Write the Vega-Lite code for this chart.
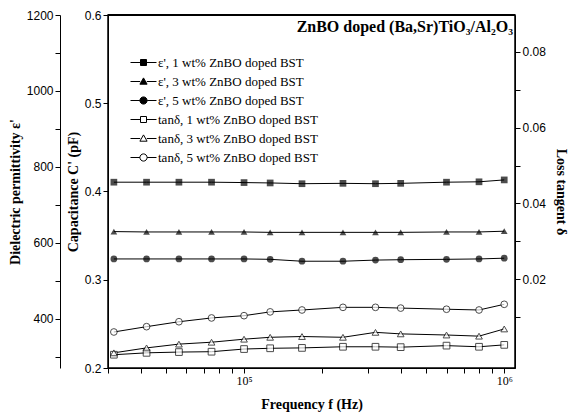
{
 "$schema": "https://vega.github.io/schema/vega-lite/v6.json",
 "width": 407, "height": 353,
 "autosize": {"type": "none"},
 "padding": {"left": 108, "top": 15, "right": 59, "bottom": 50},
 "background": "white",
 "config": {
  "view": {"stroke": "black", "strokeWidth": 1.5},
  "axis": {"domainColor": "black", "tickColor": "black", "labelColor": "black", "titleColor": "black", "grid": false, "labelFont": "Liberation Sans", "labelFontSize": 12, "titleFont": "Liberation Serif", "titleFontSize": 14, "titleFontWeight": "bold", "labelFlush": false, "labelOverlap": false}
 },
 "title": {"text": "ZnBO doped (Ba,Sr)TiO₃/Al₂O₃", "anchor": "end", "orient": "top", "frame": "group", "offset": 0, "dy": 26, "dx": -2, "font": "Liberation Serif", "fontSize": 16, "fontWeight": "bold", "color": "black"},
 "datasets": {
  "eps": [
   {"f": 31600, "s": "ε', 1 wt% ZnBO doped BST", "v": 760},
   {"f": 42200, "s": "ε', 1 wt% ZnBO doped BST", "v": 760},
   {"f": 56200, "s": "ε', 1 wt% ZnBO doped BST", "v": 760},
   {"f": 75000, "s": "ε', 1 wt% ZnBO doped BST", "v": 760},
   {"f": 100000, "s": "ε', 1 wt% ZnBO doped BST", "v": 759},
   {"f": 126000, "s": "ε', 1 wt% ZnBO doped BST", "v": 758},
   {"f": 167000, "s": "ε', 1 wt% ZnBO doped BST", "v": 756},
   {"f": 240000, "s": "ε', 1 wt% ZnBO doped BST", "v": 757},
   {"f": 320000, "s": "ε', 1 wt% ZnBO doped BST", "v": 756},
   {"f": 400000, "s": "ε', 1 wt% ZnBO doped BST", "v": 757},
   {"f": 600000, "s": "ε', 1 wt% ZnBO doped BST", "v": 760},
   {"f": 800000, "s": "ε', 1 wt% ZnBO doped BST", "v": 761},
   {"f": 1000000, "s": "ε', 1 wt% ZnBO doped BST", "v": 766},
   {"f": 31600, "s": "ε', 3 wt% ZnBO doped BST", "v": 630},
   {"f": 42200, "s": "ε', 3 wt% ZnBO doped BST", "v": 629},
   {"f": 56200, "s": "ε', 3 wt% ZnBO doped BST", "v": 629},
   {"f": 75000, "s": "ε', 3 wt% ZnBO doped BST", "v": 629},
   {"f": 100000, "s": "ε', 3 wt% ZnBO doped BST", "v": 629},
   {"f": 126000, "s": "ε', 3 wt% ZnBO doped BST", "v": 628},
   {"f": 167000, "s": "ε', 3 wt% ZnBO doped BST", "v": 628},
   {"f": 240000, "s": "ε', 3 wt% ZnBO doped BST", "v": 628},
   {"f": 320000, "s": "ε', 3 wt% ZnBO doped BST", "v": 628},
   {"f": 400000, "s": "ε', 3 wt% ZnBO doped BST", "v": 628},
   {"f": 600000, "s": "ε', 3 wt% ZnBO doped BST", "v": 629},
   {"f": 800000, "s": "ε', 3 wt% ZnBO doped BST", "v": 629},
   {"f": 1000000, "s": "ε', 3 wt% ZnBO doped BST", "v": 631},
   {"f": 31600, "s": "ε', 5 wt% ZnBO doped BST", "v": 558},
   {"f": 42200, "s": "ε', 5 wt% ZnBO doped BST", "v": 558},
   {"f": 56200, "s": "ε', 5 wt% ZnBO doped BST", "v": 558},
   {"f": 75000, "s": "ε', 5 wt% ZnBO doped BST", "v": 558},
   {"f": 100000, "s": "ε', 5 wt% ZnBO doped BST", "v": 558},
   {"f": 126000, "s": "ε', 5 wt% ZnBO doped BST", "v": 557},
   {"f": 167000, "s": "ε', 5 wt% ZnBO doped BST", "v": 552},
   {"f": 240000, "s": "ε', 5 wt% ZnBO doped BST", "v": 552},
   {"f": 320000, "s": "ε', 5 wt% ZnBO doped BST", "v": 555},
   {"f": 400000, "s": "ε', 5 wt% ZnBO doped BST", "v": 556},
   {"f": 600000, "s": "ε', 5 wt% ZnBO doped BST", "v": 557},
   {"f": 800000, "s": "ε', 5 wt% ZnBO doped BST", "v": 558},
   {"f": 1000000, "s": "ε', 5 wt% ZnBO doped BST", "v": 560}
  ],
  "tan": [
   {"f": 31600, "s": "tanδ, 1 wt% ZnBO doped BST", "v": 0.0001},
   {"f": 42200, "s": "tanδ, 1 wt% ZnBO doped BST", "v": 0.0006},
   {"f": 56200, "s": "tanδ, 1 wt% ZnBO doped BST", "v": 0.0008},
   {"f": 75000, "s": "tanδ, 1 wt% ZnBO doped BST", "v": 0.0009},
   {"f": 100000, "s": "tanδ, 1 wt% ZnBO doped BST", "v": 0.0016},
   {"f": 126000, "s": "tanδ, 1 wt% ZnBO doped BST", "v": 0.0018},
   {"f": 167000, "s": "tanδ, 1 wt% ZnBO doped BST", "v": 0.0019},
   {"f": 240000, "s": "tanδ, 1 wt% ZnBO doped BST", "v": 0.0022},
   {"f": 320000, "s": "tanδ, 1 wt% ZnBO doped BST", "v": 0.0022},
   {"f": 400000, "s": "tanδ, 1 wt% ZnBO doped BST", "v": 0.0021},
   {"f": 600000, "s": "tanδ, 1 wt% ZnBO doped BST", "v": 0.0025},
   {"f": 800000, "s": "tanδ, 1 wt% ZnBO doped BST", "v": 0.0022},
   {"f": 1000000, "s": "tanδ, 1 wt% ZnBO doped BST", "v": 0.0027},
   {"f": 31600, "s": "tanδ, 3 wt% ZnBO doped BST", "v": 0.0006},
   {"f": 42200, "s": "tanδ, 3 wt% ZnBO doped BST", "v": 0.0019},
   {"f": 56200, "s": "tanδ, 3 wt% ZnBO doped BST", "v": 0.0029},
   {"f": 75000, "s": "tanδ, 3 wt% ZnBO doped BST", "v": 0.0034},
   {"f": 100000, "s": "tanδ, 3 wt% ZnBO doped BST", "v": 0.0042},
   {"f": 126000, "s": "tanδ, 3 wt% ZnBO doped BST", "v": 0.0047},
   {"f": 167000, "s": "tanδ, 3 wt% ZnBO doped BST", "v": 0.0049},
   {"f": 240000, "s": "tanδ, 3 wt% ZnBO doped BST", "v": 0.0047},
   {"f": 320000, "s": "tanδ, 3 wt% ZnBO doped BST", "v": 0.0060},
   {"f": 400000, "s": "tanδ, 3 wt% ZnBO doped BST", "v": 0.0056},
   {"f": 600000, "s": "tanδ, 3 wt% ZnBO doped BST", "v": 0.0053},
   {"f": 800000, "s": "tanδ, 3 wt% ZnBO doped BST", "v": 0.0050},
   {"f": 1000000, "s": "tanδ, 3 wt% ZnBO doped BST", "v": 0.0069},
   {"f": 31600, "s": "tanδ, 5 wt% ZnBO doped BST", "v": 0.0061},
   {"f": 42200, "s": "tanδ, 5 wt% ZnBO doped BST", "v": 0.0075},
   {"f": 56200, "s": "tanδ, 5 wt% ZnBO doped BST", "v": 0.0088},
   {"f": 75000, "s": "tanδ, 5 wt% ZnBO doped BST", "v": 0.0098},
   {"f": 100000, "s": "tanδ, 5 wt% ZnBO doped BST", "v": 0.0104},
   {"f": 126000, "s": "tanδ, 5 wt% ZnBO doped BST", "v": 0.0114},
   {"f": 167000, "s": "tanδ, 5 wt% ZnBO doped BST", "v": 0.0119},
   {"f": 240000, "s": "tanδ, 5 wt% ZnBO doped BST", "v": 0.0126},
   {"f": 320000, "s": "tanδ, 5 wt% ZnBO doped BST", "v": 0.0126},
   {"f": 400000, "s": "tanδ, 5 wt% ZnBO doped BST", "v": 0.0124},
   {"f": 600000, "s": "tanδ, 5 wt% ZnBO doped BST", "v": 0.0121},
   {"f": 800000, "s": "tanδ, 5 wt% ZnBO doped BST", "v": 0.0119},
   {"f": 1000000, "s": "tanδ, 5 wt% ZnBO doped BST", "v": 0.0134}
  ]
 },
 "layer": [
  {
   "data": {"name": "eps"},
   "encoding": {
    "x": {"field": "f", "type": "quantitative", "scale": {"type": "log", "domain": [30000, 1100000], "nice": false},
     "axis": {"values": [30000, 40000, 50000, 60000, 70000, 80000, 90000, 100000, 200000, 300000, 400000, 500000, 600000, 700000, 800000, 900000, 1000000],
      "labelExpr": "datum.value == 100000 ? '10⁵' : (datum.value == 1000000 ? '10⁶' : '')",
      "labelFont": "Liberation Serif", "labelFontSize": 12,
      "title": "Frequency f (Hz)", "titlePadding": 11}},
    "y": {"field": "v", "type": "quantitative", "scale": {"domain": [271, 1200], "nice": false, "zero": false},
     "axis": {"orient": "left", "offset": 48, "values": [300, 400, 500, 600, 700, 800, 900, 1000, 1100, 1200],
      "labelExpr": "datum.value % 200 == 0 ? format(datum.value, 'd') : ''",
      "tickSize": 5,
      "title": "Dielectric permittivity ε'", "titlePadding": 4}}
   },
   "layer": [
    {"mark": {"type": "line", "color": "black", "strokeWidth": 1}, "encoding": {"detail": {"field": "s"}}},
    {"mark": {"type": "point", "filled": true, "color": "black", "size": 45},
     "encoding": {"shape": {"field": "s", "scale": {"domain": ["ε', 1 wt% ZnBO doped BST", "ε', 3 wt% ZnBO doped BST", "ε', 5 wt% ZnBO doped BST"], "range": ["square", "triangle-up", "circle"]}, "legend": null}}}
   ]
  },
  {
   "data": {"name": "eps"},
   "mark": {"type": "rule", "color": "black", "strokeWidth": 1.5},
   "encoding": {
    "y": {"datum": 0.6, "type": "quantitative", "scale": {"domain": [0.2, 0.6], "nice": false, "zero": false},
     "axis": {"orient": "left", "offset": 0, "tickCount": 4, "format": ".1f",
      "title": "Capacitance C' (pF)", "titlePadding": 4}}
   }
  },
  {
   "data": {"name": "tan"},
   "encoding": {
    "x": {"field": "f", "type": "quantitative", "scale": {"type": "log", "domain": [30000, 1100000], "nice": false}},
    "y": {"field": "v", "type": "quantitative", "scale": {"domain": [-0.0034, 0.0897], "nice": false, "zero": false},
     "axis": {"orient": "right", "values": [0.01, 0.02, 0.03, 0.04, 0.05, 0.06, 0.07, 0.08],
      "labelExpr": "round(datum.value*1000) % 20 == 0 ? format(datum.value, '.2f') : ''",
      "title": "Loss tangent δ", "titlePadding": 8}}
   },
   "layer": [
    {"mark": {"type": "line", "color": "black", "strokeWidth": 1}, "encoding": {"detail": {"field": "s"}}},
    {"mark": {"type": "point", "filled": true, "fill": "white", "stroke": "black", "strokeWidth": 1, "size": 45},
     "encoding": {"shape": {"field": "s", "scale": {"domain": ["tanδ, 1 wt% ZnBO doped BST", "tanδ, 3 wt% ZnBO doped BST", "tanδ, 5 wt% ZnBO doped BST"], "range": ["square", "triangle-up", "circle"]}, "legend": null}}}
   ]
  },
  {
   "data": {"name": "eps"},
   "mark": {"type": "point", "filled": true, "size": 0, "fillOpacity": 0, "strokeOpacity": 0, "stroke": "black", "strokeWidth": 1},
   "encoding": {
    "shape": {"field": "s", "scale": {"domain": ["ε', 1 wt% ZnBO doped BST", "ε', 3 wt% ZnBO doped BST", "ε', 5 wt% ZnBO doped BST", "tanδ, 1 wt% ZnBO doped BST", "tanδ, 3 wt% ZnBO doped BST", "tanδ, 5 wt% ZnBO doped BST"],
      "range": ["M-4.33,0H-1M1,0H4.33M-1,-1H1V1H-1Z", "M-4.33,0H-1.1M1.1,0H4.33M0,-1.2L1.2,0.9H-1.2Z", "M-4.33,0H-1.2M1.2,0H4.33M-1.2,0A1.2,1.2,0,1,1,1.2,0A1.2,1.2,0,1,1,-1.2,0Z", "M-4.33,0H-1M1,0H4.33M-1,-1H1V1H-1Z", "M-4.33,0H-1.1M1.1,0H4.33M0,-1.2L1.2,0.9H-1.2Z", "M-4.33,0H-1.2M1.2,0H4.33M-1.2,0A1.2,1.2,0,1,1,1.2,0A1.2,1.2,0,1,1,-1.2,0Z"]},
     "legend": {"title": null, "orient": "none", "legendX": 29, "legendY": 41, "padding": 0, "symbolOffset": 0, "labelOffset": 8, "rowPadding": 5, "symbolSize": 36, "symbolOpacity": 1, "symbolStrokeWidth": 1, "symbolStrokeColor": "black", "labelFont": "Liberation Serif", "labelFontSize": 13, "labelColor": "black", "labelLimit": 400,
      "encode": {"symbols": {"update": {"stroke": {"value": "#000000"}, "strokeWidth": {"value": 1}, "size": {"value": 36}, "opacity": {"value": 1}, "fillOpacity": {"value": 1}, "strokeOpacity": {"value": 1}}}}}},
    "fill": {"field": "s", "scale": {"domain": ["ε', 1 wt% ZnBO doped BST", "ε', 3 wt% ZnBO doped BST", "ε', 5 wt% ZnBO doped BST", "tanδ, 1 wt% ZnBO doped BST", "tanδ, 3 wt% ZnBO doped BST", "tanδ, 5 wt% ZnBO doped BST"], "range": ["black", "black", "black", "white", "white", "white"]},
     "legend": {"title": null, "orient": "none", "legendX": 29, "legendY": 41, "padding": 0, "symbolOffset": 0, "labelOffset": 8, "rowPadding": 5, "symbolSize": 36, "symbolOpacity": 1, "symbolStrokeWidth": 1, "symbolStrokeColor": "black", "labelFont": "Liberation Serif", "labelFontSize": 13, "labelColor": "black", "labelLimit": 400,
      "encode": {"symbols": {"update": {"stroke": {"value": "#000000"}, "strokeWidth": {"value": 1}, "size": {"value": 36}, "opacity": {"value": 1}, "fillOpacity": {"value": 1}, "strokeOpacity": {"value": 1}}}}}}
   }
  }
 ],
 "resolve": {"scale": {"y": "independent", "shape": "independent", "fill": "independent"}, "legend": {"shape": "independent", "fill": "independent"}}
}
